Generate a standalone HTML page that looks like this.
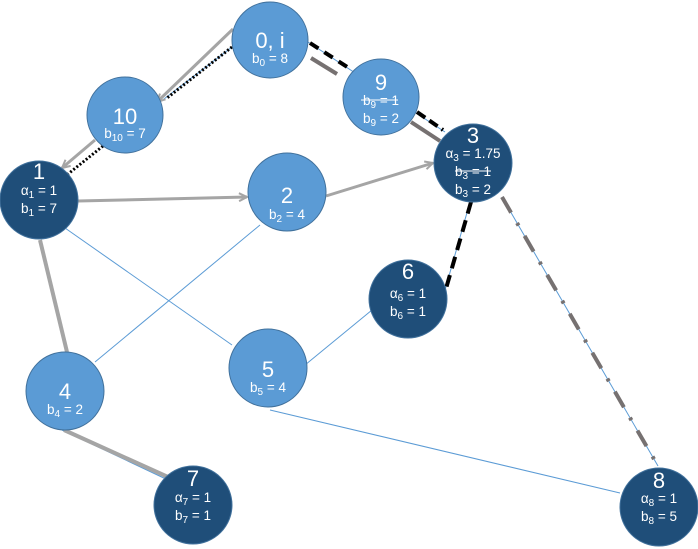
<!DOCTYPE html>
<html><head><meta charset="utf-8"><style>
html,body{margin:0;padding:0;background:#fff;width:698px;height:549px;overflow:hidden}
svg{display:block}
text{font-family:"Liberation Sans","DejaVu Sans",sans-serif;fill:#fff;text-anchor:middle}
.n{font-size:22px}.s{font-size:13.5px}
</style></head><body>
<svg width="698" height="549" viewBox="0 0 698 549" xmlns="http://www.w3.org/2000/svg">
<defs>
<marker id="ar" markerWidth="10" markerHeight="10" refX="9" refY="5" orient="auto" markerUnits="userSpaceOnUse"><path d="M1,1 L9,5 L1,9" fill="none" stroke="#a5a5a5" stroke-width="2"/></marker>
</defs>
<g fill="none">
<line x1="65" y1="228" x2="232" y2="345" stroke="#5b9bd5" stroke-width="1"/>
<line x1="260" y1="225" x2="95" y2="362" stroke="#5b9bd5" stroke-width="1"/>
<line x1="305" y1="365" x2="372" y2="310" stroke="#5b9bd5" stroke-width="1"/>
<line x1="270" y1="410" x2="620" y2="493" stroke="#5b9bd5" stroke-width="1"/>
<line x1="470" y1="202" x2="445" y2="290" stroke="#5b9bd5" stroke-width="1"/>
<line x1="502" y1="197" x2="658" y2="466" stroke="#5b9bd5" stroke-width="1"/>
<line x1="308" y1="42" x2="445" y2="132" stroke="#5b9bd5" stroke-width="1"/>
<line x1="232" y1="47" x2="160" y2="102" stroke="#5b9bd5" stroke-width="1"/>
<line x1="62" y1="430" x2="168" y2="480" stroke="#5b9bd5" stroke-width="1"/>
<line x1="40" y1="240" x2="67" y2="352" stroke="#a5a5a5" stroke-width="4"/>
<line x1="64" y1="430" x2="168" y2="477" stroke="#a5a5a5" stroke-width="4"/>
<line x1="233" y1="29" x2="157" y2="102" stroke="#a5a5a5" stroke-width="3" marker-end="url(#ar)"/>
<line x1="95" y1="140" x2="62" y2="168" stroke="#a5a5a5" stroke-width="3" marker-end="url(#ar)"/>
<line x1="78" y1="201" x2="247" y2="197" stroke="#a5a5a5" stroke-width="3" marker-end="url(#ar)"/>
<line x1="326" y1="196" x2="433" y2="163" stroke="#a5a5a5" stroke-width="3" marker-end="url(#ar)"/>
<line x1="232" y1="47" x2="167" y2="98" stroke="#000" stroke-width="3" stroke-dasharray="2,2"/>
<line x1="103" y1="146" x2="68" y2="174" stroke="#000" stroke-width="3" stroke-dasharray="2,2"/>
<line x1="310" y1="43" x2="352" y2="70" stroke="#000" stroke-width="4" stroke-dasharray="10,7"/>
<line x1="417" y1="112" x2="443" y2="130" stroke="#000" stroke-width="4" stroke-dasharray="10,5"/>
<line x1="471" y1="202" x2="445" y2="292" stroke="#000" stroke-width="4" stroke-dasharray="12,7"/>
<line x1="311" y1="58" x2="337" y2="74" stroke="#767171" stroke-width="4"/>
<line x1="411" y1="122" x2="440" y2="141" stroke="#767171" stroke-width="4"/>
<line x1="502" y1="197" x2="658" y2="466" stroke="#767171" stroke-width="4" stroke-dasharray="18,12,3,12"/>
</g>
<g stroke="#41719c" stroke-width="1">
<circle cx="270" cy="40" r="38" fill="#5b9bd5"/>
<circle cx="125" cy="115" r="38" fill="#5b9bd5"/>
<circle cx="39" cy="200" r="39" fill="#1f4e79"/>
<circle cx="287" cy="192" r="39" fill="#5b9bd5"/>
<circle cx="381" cy="97" r="38" fill="#5b9bd5"/>
<circle cx="473" cy="163" r="39" fill="#1f4e79"/>
<circle cx="408" cy="299" r="39" fill="#1f4e79"/>
<circle cx="268" cy="368" r="39" fill="#5b9bd5"/>
<circle cx="65" cy="391" r="39" fill="#5b9bd5"/>
<circle cx="193" cy="505" r="39" fill="#1f4e79"/>
<circle cx="659" cy="507" r="39" fill="#1f4e79"/>
</g>
<text x="270" y="48" class="n">0, i</text><text x="270" y="63" class="s">b<tspan font-size="10" dy="3">0</tspan><tspan dy="-3"> = 8</tspan></text>
<text x="125" y="124" class="n">10</text><text x="125" y="138" class="s">b<tspan font-size="10" dy="3">10</tspan><tspan dy="-3"> = 7</tspan></text>
<text x="39" y="179" class="n">1</text><text x="39" y="195" class="s">α<tspan font-size="10" dy="3">1</tspan><tspan dy="-3"> = 1</tspan></text><text x="39" y="213" class="s">b<tspan font-size="10" dy="3">1</tspan><tspan dy="-3"> = 7</tspan></text>
<text x="287" y="203" class="n">2</text><text x="287" y="219" class="s">b<tspan font-size="10" dy="3">2</tspan><tspan dy="-3"> = 4</tspan></text>
<text x="381" y="90" class="n">9</text><text x="381" y="105" class="s">b<tspan font-size="10" dy="3">9</tspan><tspan dy="-3"> = 1</tspan></text>
<line x1="361" y1="100" x2="398" y2="100" stroke="#fff" stroke-width="1"/>
<text x="381" y="123" class="s">b<tspan font-size="10" dy="3">9</tspan><tspan dy="-3"> = 2</tspan></text>
<text x="473" y="143" class="n">3</text><text x="473" y="158" class="s">α<tspan font-size="10" dy="3">3</tspan><tspan dy="-3"> = 1.75</tspan></text>
<text x="473" y="176" class="s">b<tspan font-size="10" dy="3">3</tspan><tspan dy="-3"> = 1</tspan></text>
<line x1="455" y1="171" x2="491" y2="171" stroke="#fff" stroke-width="1"/>
<text x="473" y="194" class="s">b<tspan font-size="10" dy="3">3</tspan><tspan dy="-3"> = 2</tspan></text>
<text x="408" y="279" class="n">6</text><text x="408" y="298" class="s">α<tspan font-size="10" dy="3">6</tspan><tspan dy="-3"> = 1</tspan></text><text x="408" y="316" class="s">b<tspan font-size="10" dy="3">6</tspan><tspan dy="-3"> = 1</tspan></text>
<text x="268" y="377" class="n">5</text><text x="268" y="392" class="s">b<tspan font-size="10" dy="3">5</tspan><tspan dy="-3"> = 4</tspan></text>
<text x="65" y="399" class="n">4</text><text x="65" y="414" class="s">b<tspan font-size="10" dy="3">4</tspan><tspan dy="-3"> = 2</tspan></text>
<text x="193" y="486" class="n">7</text><text x="193" y="502" class="s">α<tspan font-size="10" dy="3">7</tspan><tspan dy="-3"> = 1</tspan></text><text x="193" y="520" class="s">b<tspan font-size="10" dy="3">7</tspan><tspan dy="-3"> = 1</tspan></text>
<text x="659" y="488" class="n">8</text><text x="659" y="503" class="s">α<tspan font-size="10" dy="3">8</tspan><tspan dy="-3"> = 1</tspan></text><text x="659" y="521" class="s">b<tspan font-size="10" dy="3">8</tspan><tspan dy="-3"> = 5</tspan></text>
</svg>
</body></html>
